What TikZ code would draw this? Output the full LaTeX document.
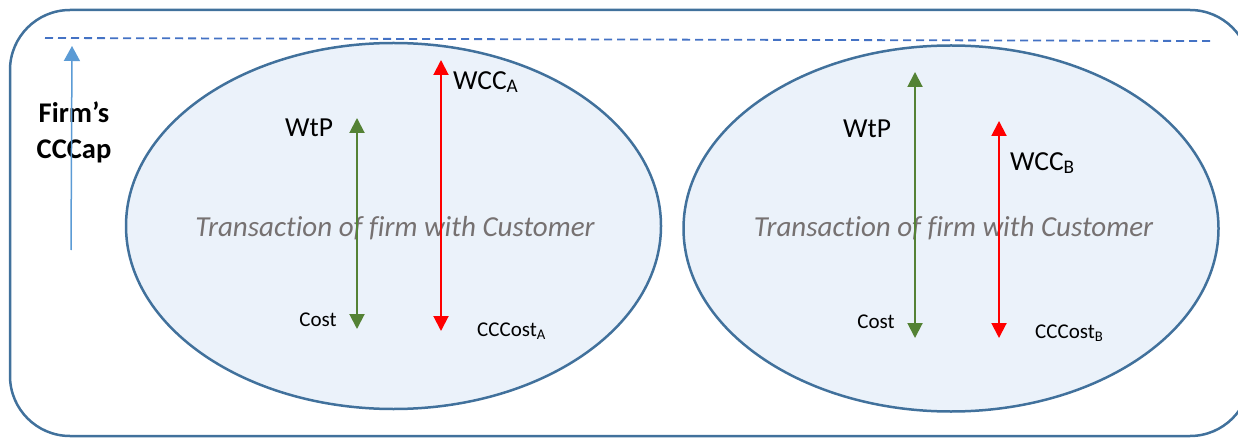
\documentclass[tikz,border=0pt]{standalone}
\usepackage{fontspec}
\setmainfont{Carlito}[Ligatures=NoCommon]
\usetikzlibrary{arrows.meta,shapes.geometric}
\definecolor{frame}{HTML}{41719C}
\definecolor{ellfill}{HTML}{EBF2FA}
\definecolor{dashblue}{HTML}{4472C4}
\definecolor{capblue}{HTML}{5B9BD5}
\definecolor{wtpgreen}{HTML}{548235}
\definecolor{wccred}{HTML}{FF0000}
\definecolor{txtgray}{HTML}{767171}
\begin{document}
\begin{tikzpicture}[x=1pt,y=-1pt,
  trans/.style={ellipse, draw=frame, fill=ellfill, line width=2.5pt, inner sep=0pt,
    minimum width=535pt, minimum height=366pt},
  transtext/.style={text=txtgray, font=\itshape\fontsize{29}{34}\selectfont, inner sep=0pt},
  dbl/.style={{Triangle[width=15pt,length=15pt]}-{Triangle[width=15pt,length=15pt]}, line width=2pt},
  biglabel/.style={font=\fontsize{27.5}{32}\selectfont, inner sep=0pt},
  smalllabel/.style={font=\fontsize{21}{25}\selectfont, inner sep=0pt}
]
\useasboundingbox (0,0) rectangle (1238,438);
% outer frame
\draw[frame, line width=2.5pt, rounded corners=60pt] (10,10) rectangle (1250,436);
% dashed capability level
\coordinate (dl) at (45,38);
\coordinate (dr) at (1211,41);
\draw[dashblue, line width=1.8pt, dash pattern=on 8pt off 5pt] (dl) -- (dr);
% ellipses
\node[trans] (ellA) at (393.5,226) {};
\node[trans] (ellB) at (951,228.5) {};
\node[transtext] (tA) at (395,228) {Transaction of f\kern0pt irm with Customer};
\node[transtext] (tB) at (953.5,228) {Transaction of f\kern0pt irm with Customer};
% firm's CCCap
\node[font=\bfseries\fontsize{28.5}{36}\selectfont, align=center, inner sep=0pt] (cap) at (74,132) {Firm’s\\CCCap};
\coordinate (cb) at (71,250);
\coordinate (ct) at (72,46);
\draw[capblue, line width=1.5pt, -{Triangle[width=16pt,length=15pt]}] (cb) -- (ct);
% left transaction arrows
\coordinate (gAt) at (357,118);
\coordinate (gAb) at (357,329);
\coordinate (rAt) at (441,60);
\coordinate (rAb) at (441,331);
\draw[dbl, wtpgreen] (gAb) -- (gAt);
\draw[dbl, wccred] (rAb) -- (rAt);
\node[biglabel] (wtpA) at (309,128) {WtP};
\node[biglabel, anchor=west] (wccA) at (453,82) {WCC\textsubscript{A}};
\node[smalllabel] (costA) at (318,320) {Cost};
\node[smalllabel, anchor=west] (cccA) at (477,331) {CCCost\textsubscript{A}};
% right transaction arrows
\coordinate (gBt) at (915,72);
\coordinate (gBb) at (915,338);
\coordinate (rBt) at (999,121);
\coordinate (rBb) at (999,338);
\draw[dbl, wtpgreen] (gBb) -- (gBt);
\draw[dbl, wccred] (rBb) -- (rBt);
\node[biglabel] (wtpB) at (867,129) {WtP};
\node[biglabel, anchor=west] (wccB) at (1010,163) {WCC\textsubscript{B}};
\node[smalllabel] (costB) at (876,322) {Cost};
\node[smalllabel, anchor=west] (cccB) at (1035,333) {CCCost\textsubscript{B}};
\end{tikzpicture}
\end{document}
